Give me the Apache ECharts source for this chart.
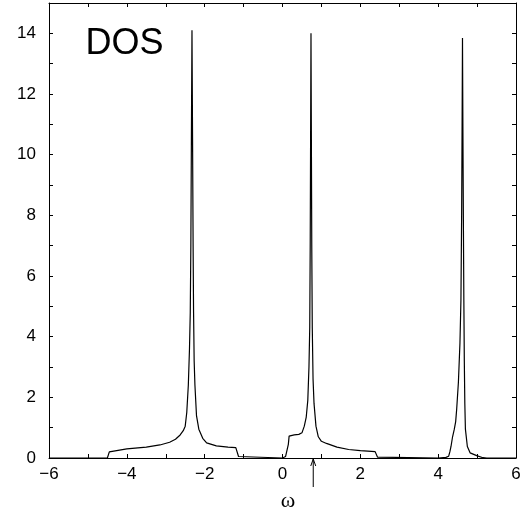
<!DOCTYPE html>
<html>
<head>
<meta charset="utf-8">
<script src="https://cdn.jsdelivr.net/npm/echarts@6/dist/echarts.min.js"></script>
<style>
  html, body { margin: 0; padding: 0; background: #fff; }
  #chart { width: 526px; height: 518px; }
</style>
</head>
<body>
<div id="chart"></div>
<script>
// omega values (x) and density of states (y)
const omega = [
  -6, -4.5, -4.47, -4.45, -4.42, -4.0, -3.5, -3.15, -2.9, -2.75, -2.63, -2.55, -2.5, -2.46,
  -2.42, -2.39, -2.37, -2.355, -2.341, -2.326, -2.311, -2.297, -2.285, -2.27, -2.25, -2.21,
  -2.15, -2.05, -1.95, -1.7, -1.4, -1.2, -1.16, -1.13, -1.1,
  0, 0.03, 0.08, 0.12, 0.15, 0.17, 0.2, 0.3, 0.42, 0.5, 0.56, 0.61, 0.65, 0.68, 0.7, 0.712,
  0.722, 0.732, 0.742, 0.752, 0.765, 0.785, 0.81, 0.86, 0.92, 1.0, 1.13, 1.4, 1.7, 2.0,
  2.38, 2.41, 2.44, 2.48,
  4.0, 4.2, 4.27, 4.3, 4.33, 4.37, 4.415, 4.45, 4.475, 4.52, 4.56, 4.585, 4.603, 4.615,
  4.625, 4.635, 4.647, 4.66, 4.672, 4.685, 4.7, 4.75, 4.82, 4.99, 5.15, 5.25, 6
];
const dos = [
  0, 0, 0.03, 0.2, 0.26, 0.3, 0.36, 0.43, 0.52, 0.62, 0.76, 0.9, 1.05, 1.5,
  2.4, 3.6, 4.8, 7, 10.5, 14.1, 10.5, 7, 4.8, 3.2, 2.4, 1.4,
  0.95, 0.65, 0.5, 0.4, 0.36, 0.34, 0.3, 0.05, 0,
  0, 0.03, 0.05, 0.08, 0.45, 0.72, 0.76, 0.76, 0.78, 0.83, 1.05, 1.35, 1.9, 3.0, 4.3, 7,
  10.5, 14.0, 10.5, 7, 4.3, 2.6, 1.8, 1.05, 0.7, 0.55, 0.48, 0.36, 0.28, 0.24,
  0.21, 0.17, 0.03, 0,
  0, 0.02, 0.06, 0.2, 0.38, 0.7, 0.95, 1.2, 1.6, 2.5, 3.8, 5.2, 8, 11,
  13.85, 11, 8, 5.2, 3.2, 1.8, 0.95, 0.38, 0.17, 0.08, 0.01, 0, 0
];
const xTicks = [-6, 6];
const yTicks = [0, 15];
const arrowAt = 0.79;
const labelAt = 0.14;

const chartDom = document.getElementById("chart");
const myChart = echarts.init(chartDom, null, { renderer: "canvas" });

const FONT = "Liberation Sans, Arial, sans-serif";
const minus = (v) => (v % 2 === 0 ? String(v).replace("-", "\u2212") : "");

const tickStyle = {
  show: true,
  inside: true,
  length: 4,
  lineStyle: { color: "#000", width: 1 },
};
const lineStyle = { show: true, onZero: false, lineStyle: { color: "#000", width: 1 } };

const option = {
  animation: false,
  backgroundColor: "#fff",
  grid: { left: 49, right: 10, top: 3, bottom: 60 },
  xAxis: [
    {
      type: "value",
      min: xTicks[0],
      max: xTicks[1],
      interval: 1,
      axisLine: lineStyle,
      axisTick: tickStyle,
      splitLine: { show: false },
      axisLabel: { formatter: minus, color: "#000", fontSize: 17, fontFamily: FONT, margin: 8 },
    },
    {
      type: "value",
      position: "top",
      min: xTicks[0],
      max: xTicks[1],
      interval: 1,
      axisLine: lineStyle,
      axisTick: tickStyle,
      splitLine: { show: false },
      axisLabel: { show: false },
    },
  ],
  yAxis: [
    {
      type: "value",
      min: yTicks[0],
      max: yTicks[1],
      interval: 1,
      axisLine: lineStyle,
      axisTick: tickStyle,
      splitLine: { show: false },
      axisLabel: {
        formatter: (v) => (v % 2 === 0 && v < 15 ? String(v) : ""),
        color: "#000",
        fontSize: 17,
        fontFamily: FONT,
        margin: 13,
      },
    },
    {
      type: "value",
      position: "right",
      min: yTicks[0],
      max: yTicks[1],
      interval: 1,
      axisLine: lineStyle,
      axisTick: tickStyle,
      splitLine: { show: false },
      axisLabel: { show: false },
    },
  ],
  series: [
    {
      type: "line",
      data: omega.map((x, i) => [x, dos[i]]),
      showSymbol: false,
      symbol: "none",
      lineStyle: { color: "#000", width: 1.2 },
    },
  ],
};

myChart.setOption(option);

// annotation: DOS title, arrow below the axis and omega label
const tip = myChart.convertToPixel({ gridIndex: 0 }, [arrowAt, 0]);
const lab = myChart.convertToPixel({ gridIndex: 0 }, [labelAt, 0]);
const corner = myChart.convertToPixel({ gridIndex: 0 }, [-5.06, 13.75]);
myChart.setOption({
  graphic: [
    {
      type: "text",
      x: corner[0],
      y: corner[1] + 3,
      style: { text: "DOS", font: "36px " + FONT, fill: "#000", verticalAlign: "middle" },
    },
    {
      type: "line",
      shape: { x1: tip[0], y1: tip[1] + 1, x2: tip[0], y2: tip[1] + 29 },
      style: { stroke: "#000", lineWidth: 1 },
    },
    {
      type: "polyline",
      shape: { points: [[tip[0] - 2.5, tip[1] + 8], [tip[0], tip[1] + 1], [tip[0] + 2.5, tip[1] + 8]] },
      style: { stroke: "#000", lineWidth: 1, fill: null },
    },
    {
      type: "text",
      x: lab[0],
      y: lab[1] + 43,
      style: {
        text: "\u03c9",
        font: "22px Liberation Serif, serif",
        fill: "#000",
        align: "center",
        verticalAlign: "middle",
      },
    },
  ],
});

window.addEventListener("resize", () => myChart.resize());
</script>
</body>
</html>
